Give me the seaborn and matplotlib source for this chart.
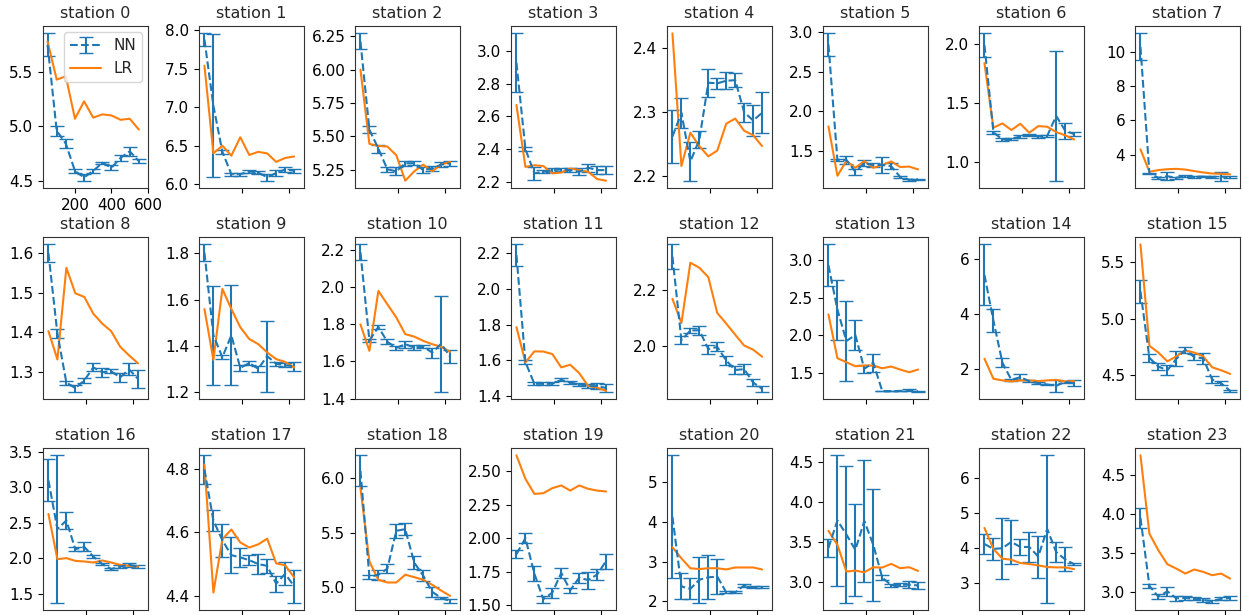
import numpy as np
import pandas as pd
import matplotlib
matplotlib.use("Agg")
import matplotlib.pyplot as plt
import seaborn as sns

# ---------------- data ----------------
x_station0 = [50, 100, 150, 200, 250, 300, 350, 400, 450, 500, 550]
x_other = [40, 78, 116, 154, 192, 230, 268, 306, 344, 382, 420]

nn_mean = [
    [5.75, 4.96, 4.84, 4.59, 4.53, 4.59, 4.665, 4.62, 4.71, 4.77, 4.68],
    [7.88, 7.02, 6.42, 6.13, 6.13, 6.165, 6.15, 6.09, 6.145, 6.19, 6.175],
    [6.21, 5.55, 5.41, 5.255, 5.24, 5.30, 5.30, 5.25, 5.26, 5.29, 5.30],
    [2.93, 2.40, 2.25, 2.26, 2.27, 2.275, 2.27, 2.26, 2.285, 2.27, 2.27],
    [2.262, 2.299, 2.223, 2.257, 2.346, 2.345, 2.349, 2.35, 2.30, 2.287, 2.299],
    [2.84, 1.39, 1.39, 1.24, 1.35, 1.325, 1.325, 1.31, 1.175, 1.14, 1.145],
    [1.99, 1.25, 1.19, 1.195, 1.215, 1.225, 1.215, 1.22, 1.39, 1.265, 1.235],
    [10.29, 2.90, 2.65, 2.74, 2.65, 2.75, 2.70, 2.72, 2.70, 2.72, 2.68],
    [1.599, 1.397, 1.274, 1.26, 1.279, 1.312, 1.30, 1.302, 1.287, 1.307, 1.283],
    [1.803, 1.445, 1.35, 1.445, 1.304, 1.325, 1.30, 1.355, 1.322, 1.315, 1.311],
    [2.188, 1.713, 1.786, 1.706, 1.673, 1.693, 1.675, 1.679, 1.648, 1.695, 1.626],
    [2.19, 1.59, 1.468, 1.468, 1.468, 1.49, 1.475, 1.465, 1.455, 1.455, 1.445],
    [2.321, 2.02, 2.055, 2.056, 1.988, 1.996, 1.947, 1.913, 1.916, 1.868, 1.845],
    [2.935, 2.343, 1.925, 2.005, 1.555, 1.636, 1.258, 1.258, 1.26, 1.27, 1.255],
    [5.44, 3.77, 2.25, 1.62, 1.72, 1.57, 1.50, 1.45, 1.40, 1.55, 1.49],
    [5.24, 4.653, 4.576, 4.544, 4.644, 4.724, 4.66, 4.649, 4.462, 4.429, 4.362],
    [3.094, 2.41, 2.53, 2.125, 2.158, 2.024, 1.918, 1.847, 1.882, 1.906, 1.882],
    [4.798, 4.637, 4.575, 4.528, 4.521, 4.512, 4.50, 4.494, 4.438, 4.469, 4.43],
    [6.07, 5.098, 5.117, 5.173, 5.52, 5.535, 5.228, 5.109, 4.96, 4.905, 4.877],
    [1.88, 2.00, 1.734, 1.543, 1.593, 1.74, 1.61, 1.705, 1.686, 1.728, 1.829],
    [4.13, 2.37, 2.31, 2.54, 2.60, 2.62, 2.22, 2.22, 2.395, 2.35, 2.35],
    [3.43, 3.773, 3.598, 3.405, 3.767, 3.468, 3.06, 2.963, 2.97, 2.97, 2.96],
    [4.12, 3.98, 4.00, 4.18, 4.035, 4.035, 3.76, 4.55, 3.89, 3.68, 3.54],
    [3.95, 3.075, 2.936, 3.006, 2.917, 2.92, 2.91, 2.894, 2.88, 2.91, 2.92],
]

nn_err = [
    [0.105, 0.045, 0.04, 0.02, 0.03, 0.02, 0.01, 0.025, 0.03, 0.04, 0.02],
    [0.08, 0.93, 0.03, 0.02, 0.02, 0.025, 0.02, 0.045, 0.035, 0.03, 0.025],
    [0.06, 0.025, 0.03, 0.02, 0.03, 0.02, 0.015, 0.025, 0.02, 0.017, 0.02],
    [0.18, 0.015, 0.04, 0.009, 0.01, 0.008, 0.01, 0.02, 0.025, 0.025, 0.025],
    [0.042, 0.023, 0.03, 0.013, 0.022, 0.009, 0.013, 0.011, 0.015, 0.024, 0.032],
    [0.14, 0.01, 0.05, 0.04, 0.035, 0.025, 0.105, 0.04, 0.015, 0.012, 0.01],
    [0.10, 0.01, 0.01, 0.01, 0.01, 0.01, 0.01, 0.01, 0.55, 0.067, 0.014],
    [0.79, 0.05, 0.06, 0.22, 0.06, 0.05, 0.05, 0.05, 0.05, 0.24, 0.05],
    [0.022, 0.011, 0.005, 0.009, 0.007, 0.01, 0.011, 0.005, 0.012, 0.015, 0.022],
    [0.036, 0.213, 0.009, 0.216, 0.013, 0.008, 0.013, 0.154, 0.009, 0.009, 0.02],
    [0.043, 0.007, 0.009, 0.013, 0.012, 0.018, 0.013, 0.009, 0.027, 0.258, 0.037],
    [0.06, 0.012, 0.008, 0.008, 0.008, 0.008, 0.01, 0.008, 0.01, 0.016, 0.021],
    [0.044, 0.014, 0.009, 0.016, 0.016, 0.016, 0.017, 0.015, 0.018, 0.013, 0.01],
    [0.278, 0.40, 0.527, 0.194, 0.056, 0.118, 0.005, 0.005, 0.005, 0.013, 0.005],
    [1.11, 0.41, 0.16, 0.03, 0.12, 0.03, 0.03, 0.03, 0.21, 0.03, 0.11],
    [0.10, 0.037, 0.032, 0.044, 0.066, 0.029, 0.029, 0.047, 0.029, 0.019, 0.007],
    [0.294, 1.036, 0.116, 0.03, 0.064, 0.024, 0.012, 0.012, 0.024, 0.024, 0.024],
    [0.045, 0.033, 0.052, 0.057, 0.029, 0.016, 0.033, 0.021, 0.025, 0.036, 0.052],
    [0.142, 0.018, 0.046, 0.042, 0.062, 0.057, 0.057, 0.054, 0.049, 0.012, 0.016],
    [0.032, 0.038, 0.054, 0.025, 0.038, 0.04, 0.018, 0.038, 0.064, 0.04, 0.056],
    [1.556, 0.33, 0.27, 0.58, 0.555, 0.445, 0.025, 0.025, 0.035, 0.03, 0.03],
    [0.109, 0.815, 0.853, 0.573, 0.767, 0.698, 0.03, 0.017, 0.02, 0.046, 0.048],
    [0.29, 0.31, 0.87, 0.62, 0.24, 0.43, 0.60, 2.11, 0.28, 0.345, 0.035],
    [0.128, 0.024, 0.03, 0.058, 0.032, 0.02, 0.02, 0.022, 0.02, 0.02, 0.028],
]

lr_vals = [
    [5.78, 5.43, 5.46, 5.07, 5.23, 5.08, 5.11, 5.10, 5.06, 5.07, 4.97],
    [7.54, 6.40, 6.50, 6.37, 6.61, 6.38, 6.42, 6.40, 6.29, 6.34, 6.36],
    [6.00, 5.445, 5.43, 5.425, 5.36, 5.17, 5.24, 5.29, 5.24, 5.29, 5.31],
    [2.67, 2.29, 2.30, 2.295, 2.25, 2.255, 2.28, 2.27, 2.26, 2.215, 2.205],
    [2.423, 2.216, 2.268, 2.247, 2.231, 2.24, 2.282, 2.29, 2.271, 2.264, 2.247],
    [1.81, 1.19, 1.375, 1.29, 1.375, 1.29, 1.325, 1.37, 1.30, 1.305, 1.27],
    [1.837, 1.29, 1.326, 1.27, 1.323, 1.247, 1.303, 1.298, 1.253, 1.225, 1.19],
    [4.31, 3.00, 3.10, 3.15, 3.17, 3.13, 3.04, 2.96, 2.90, 2.88, 2.85],
    [1.403, 1.332, 1.562, 1.498, 1.489, 1.447, 1.422, 1.403, 1.364, 1.342, 1.322],
    [1.559, 1.339, 1.646, 1.559, 1.48, 1.429, 1.407, 1.371, 1.342, 1.33, 1.306],
    [1.80, 1.657, 1.98, 1.908, 1.837, 1.747, 1.734, 1.711, 1.693, 1.679, 1.652],
    [1.786, 1.588, 1.65, 1.649, 1.635, 1.56, 1.575, 1.528, 1.456, 1.447, 1.428],
    [2.169, 2.082, 2.299, 2.281, 2.247, 2.118, 2.08, 2.04, 2.001, 1.986, 1.961],
    [2.279, 1.696, 1.642, 1.589, 1.598, 1.598, 1.562, 1.585, 1.545, 1.509, 1.545],
    [2.39, 1.66, 1.60, 1.56, 1.60, 1.60, 1.575, 1.60, 1.62, 1.56, 1.575],
    [5.654, 4.759, 4.70, 4.622, 4.666, 4.718, 4.70, 4.666, 4.57, 4.544, 4.512],
    [2.621, 1.986, 2.00, 1.962, 1.953, 1.939, 1.967, 1.939, 1.906, 1.892, 1.882],
    [4.814, 4.41, 4.578, 4.609, 4.568, 4.552, 4.562, 4.58, 4.502, 4.496, 4.458],
    [5.914, 5.239, 5.071, 5.046, 5.046, 5.117, 5.095, 5.071, 5.025, 4.972, 4.923],
    [2.618, 2.443, 2.33, 2.335, 2.373, 2.393, 2.355, 2.393, 2.368, 2.355, 2.348],
    [3.36, 3.08, 2.83, 2.81, 2.83, 2.83, 2.80, 2.85, 2.85, 2.85, 2.80],
    [3.644, 3.468, 3.134, 3.146, 3.125, 3.188, 3.184, 3.23, 3.176, 3.188, 3.142],
    [4.58, 3.98, 3.70, 3.67, 3.575, 3.546, 3.508, 3.46, 3.45, 3.45, 3.40],
    [4.755, 3.746, 3.533, 3.354, 3.298, 3.234, 3.286, 3.256, 3.213, 3.234, 3.17],
]

titles = [f"station {i}" for i in range(24)]
station0_xticks = [200, 400, 600]

# ---------------- style ----------------
sns.set_style("ticks")
plt.rcParams["font.family"] = ["DejaVu Sans"]
plt.rcParams["axes.edgecolor"] = "black"
plt.rcParams["xtick.color"] = "black"
plt.rcParams["ytick.color"] = "black"
plt.rcParams["axes.linewidth"] = 0.8

C_NN = "#1f77b4"
C_LR = "#ff7f0e"

fig, axes = plt.subplots(3, 8, figsize=(12.43, 6.15), dpi=100)
fig.subplots_adjust(left=0.0346, right=0.9976, top=0.9577, bottom=0.0081,
                    wspace=0.486, hspace=0.302)

for i, ax in enumerate(axes.flat):
    xs = x_station0 if i == 0 else x_other
    eb = ax.errorbar(xs, nn_mean[i], yerr=nn_err[i], fmt="--", color=C_NN,
                     capsize=5, elinewidth=1.5, linewidth=1.5, label="NN")
    df = pd.DataFrame({"x": xs, "y": lr_vals[i]})
    sns.lineplot(data=df, x="x", y="y", ax=ax, color=C_LR, linewidth=1.5,
                 estimator=None, sort=False, legend=False)
    lr_line = ax.lines[-1]
    ax.set_title(titles[i], fontsize=11.5)
    ax.set_xlabel("")
    ax.set_ylabel("")
    ax.tick_params(axis="both", labelsize=11, length=3.5, width=0.8)
    for sp in ax.spines.values():
        sp.set_visible(True)
        sp.set_color("#333333")
    if i == 0:
        ax.set_xlim(25, 600)
        ax.set_xticks(station0_xticks)
        ax.legend([eb, lr_line], ["NN", "LR"], loc="upper right", fontsize=11,
                  framealpha=0.8, borderaxespad=0.4)
    else:
        ax.set_xlim(17, 462)
        ax.set_xticks([200, 400])
        ax.set_xticklabels([])

fig.savefig("out.png", dpi=100)
